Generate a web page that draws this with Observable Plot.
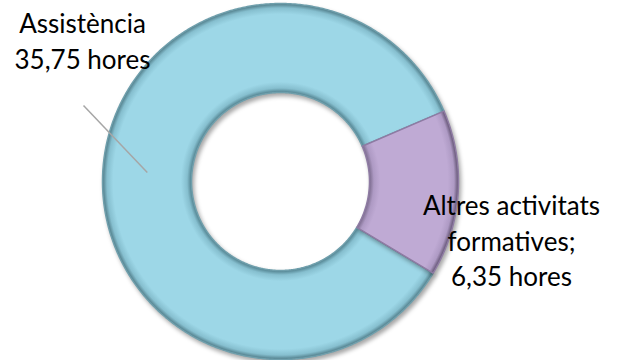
<!DOCTYPE html>
<html>
<head>
<meta charset="utf-8">
<script src="https://cdn.jsdelivr.net/npm/d3@7"></script>
<script src="https://cdn.jsdelivr.net/npm/@observablehq/plot@0.6"></script>
<style>
  html, body { margin: 0; padding: 0; background: #fff; }
  #chart svg { display: block; }
  .ring path { filter: drop-shadow(2px 3px 2px rgba(0,0,0,0.35)); }
</style>
</head>
<body>
<div id="chart"></div>
<script>
// ---- data ----
const categories = ["Assistència", "Altres activitats formatives"];
const hours = [35.75, 6.35];
const labelTexts = ["Assistència\n35,75 hores", "Altres activitats\nformatives;\n6,35 hores"];
const fills = ["url(#gBlue)", "url(#gPurple)"];
const strokes = ["#6f9fac", "#8e7ba3"];

// ---- layout ----
const W = 622, H = 360;
const cx = 280, cy = 181, rOuter = 178, rInner = 89;
const startDeg = 121;

const pie = d3.pie().sort(null).startAngle(startDeg * Math.PI / 180).endAngle((startDeg + 360) * Math.PI / 180);
const arcs = pie(hours);

const pt = (r, a) => [cx + r * Math.sin(a), cy - r * Math.cos(a)];

const ringPts = [];
arcs.forEach((d, i) => {
  const n = Math.max(2, Math.ceil((d.endAngle - d.startAngle) / (Math.PI / 360)));
  const poly = [];
  for (let k = 0; k <= n; k++) poly.push(pt(rOuter, d.startAngle + (d.endAngle - d.startAngle) * k / n));
  for (let k = n; k >= 0; k--) poly.push(pt(rInner, d.startAngle + (d.endAngle - d.startAngle) * k / n));
  poly.push(poly[0]);
  poly.forEach(([x, y]) => ringPts.push({ x, y, cat: categories[i], i }));
});

// leader line from label to slice centroid (Assistència)
const a0 = arcs[0];
const mid0 = (a0.startAngle + a0.endAngle) / 2;
const [lx2, ly2] = pt((rOuter + rInner) / 2, mid0);
const leader = [{ x1: 83, y1: 105, x2: lx2, y2: ly2 }];

const labels = [
  { x: 82, y: 8, text: labelTexts[0] },
  { x: 511, y: 190, text: labelTexts[1] }
];

function gradient(id, inner, c1, c2, outer) {
  const f = rInner / rOuter;
  return `<radialGradient id="${id}" gradientUnits="userSpaceOnUse" cx="${cx}" cy="${cy}" r="${rOuter}">
    <stop offset="${f}" stop-color="${inner}"/>
    <stop offset="${f + 0.025}" stop-color="${c1}"/>
    <stop offset="${f + 0.06}" stop-color="${c2}"/>
    <stop offset="0.94" stop-color="${c2}"/>
    <stop offset="0.975" stop-color="${c1}"/>
    <stop offset="1" stop-color="${outer}"/>
  </radialGradient>`;
}

const defsMark = () => {
  const g = document.createElementNS("http://www.w3.org/2000/svg", "defs");
  g.innerHTML = gradient("gBlue", "#4f7f8c", "#86bfcf", "#9dd7e7", "#4e7a86") +
                gradient("gPurple", "#7a6a8c", "#ae9ac4", "#bfaad4", "#5e4f6e");
  return g;
};

const chart = Plot.plot({
  width: W, height: H,
  margin: 0,
  x: { type: "identity", axis: null },
  y: { type: "identity", axis: null },
  style: { background: "transparent" },
  marks: [
    defsMark,
    Plot.line(ringPts, {
      x: "x", y: "y", z: "cat",
      fill: d => fills[d.i],
      stroke: d => strokes[d.i],
      strokeWidth: 1.5,
      curve: "linear",
      className: "ring"
    }),
    Plot.link(leader, { x1: "x1", y1: "y1", x2: "x2", y2: "y2", stroke: "#a6a6a6", strokeWidth: 1.5 }),
    Plot.text(labels, {
      x: "x", y: "y", text: "text",
      textAnchor: "middle", lineAnchor: "top",
      lineHeight: 1.35,
      fontSize: 26,
      fontFamily: "Lato",
      fill: "#000"
    })
  ]
});
document.getElementById("chart").appendChild(chart);
</script>
</body>
</html>
